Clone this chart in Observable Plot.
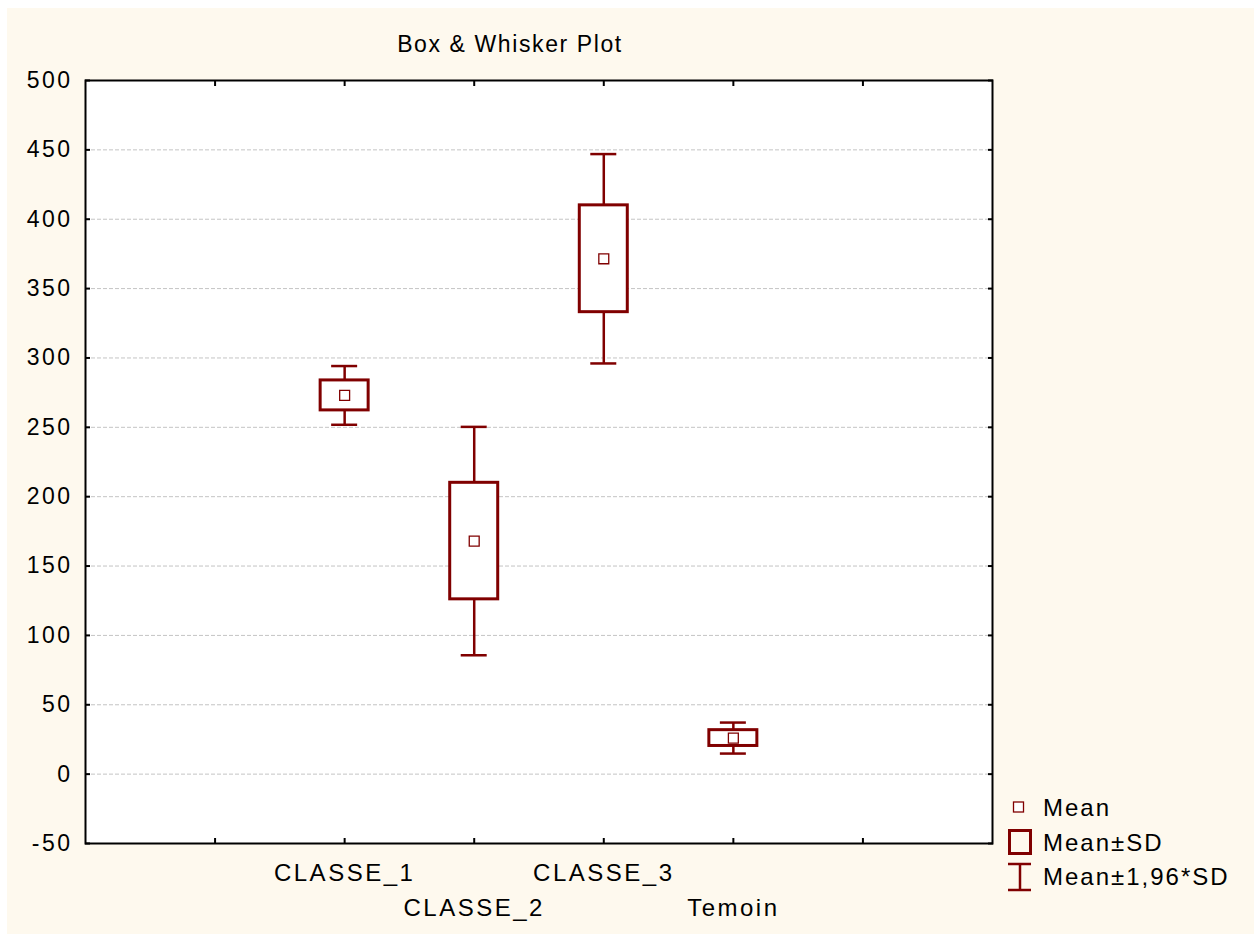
<!DOCTYPE html>
<html>
<head>
<meta charset="utf-8">
<script src="https://cdn.jsdelivr.net/npm/d3@7"></script>
<script src="https://cdn.jsdelivr.net/npm/@observablehq/plot@0.6"></script>
<style>
  body { margin: 0; background: #ffffff; }
  #wrap { position: relative; width: 1258px; height: 935px; overflow: hidden;
          font-family: "Liberation Sans", Arial, sans-serif; color: #000; }
  #panel { position: absolute; left: 7px; top: 8px; width: 1247px; height: 926px; background: #fef9ee; }
  #chart { position: absolute; left: 0; top: 0; }
  #title { position: absolute; left: 0; top: 31px; width: 1020px; text-align: center;
           font-size: 23px; letter-spacing: 1.6px; line-height: normal; }
  #legend { position: absolute; left: 1000px; top: 790px; overflow: visible; }
</style>
</head>
<body>
<div id="wrap">
  <div id="panel"></div>
  <div id="chart"></div>
  <div id="title">Box &amp; Whisker Plot</div>
  <svg id="legend" width="258" height="120"></svg>
</div>
<script>
// Group statistics: mean and standard deviation per class
const categories = ["CLASSE_1", "CLASSE_2", "CLASSE_3", "Temoin"];
const means = [273, 168, 371.5, 26];
const sds = [10.8, 42, 38.5, 5.7];

// Axis ticks
const yTicks = [-50, 0, 50, 100, 150, 200, 250, 300, 350, 400, 450, 500];
const xSlots = [0, 1, 2, 3, 4, 5];
const legendLabels = ["Mean", "Mean\u00B1SD", "Mean\u00B11,96*SD"];

const RED = "#800000";
const FONT = "'Liberation Sans', Arial, sans-serif";

const rows = categories.map((name, i) => ({
  name,
  pos: i + 1,
  mean: means[i],
  lo: means[i] - sds[i],
  hi: means[i] + sds[i],
  lo96: means[i] - 1.96 * sds[i],
  hi96: means[i] + 1.96 * sds[i]
}));

const chart = Plot.plot({
  width: 1258,
  height: 935,
  marginLeft: 85,
  marginRight: 266,
  marginTop: 80,
  marginBottom: 92,
  style: { background: "transparent", fontFamily: FONT, color: "#000", overflow: "visible" },
  x: { domain: [-1, 6] },
  y: { domain: [-50, 500] },
  marks: [
    Plot.frame({ fill: "white" }),
    Plot.gridY(yTicks, { stroke: "#c4c4c4", strokeOpacity: 1, strokeWidth: 1, strokeDasharray: "4,2" }),
    // whiskers: mean ± 1.96 SD
    Plot.ruleX(rows, { x: "pos", y1: "lo96", y2: "hi96", stroke: RED, strokeWidth: 2.5 }),
    Plot.ruleY(rows, { y: "hi96", x1: "pos", x2: "pos", insetLeft: -13, insetRight: -13, stroke: RED, strokeWidth: 2.5 }),
    Plot.ruleY(rows, { y: "lo96", x1: "pos", x2: "pos", insetLeft: -13, insetRight: -13, stroke: RED, strokeWidth: 2.5 }),
    // boxes: mean ± SD
    Plot.rect(rows, { x1: "pos", x2: "pos", y1: "lo", y2: "hi", insetLeft: -24, insetRight: -24,
                      fill: "white", stroke: RED, strokeWidth: 3 }),
    // mean markers
    Plot.dot(rows, { x: "pos", y: "mean", symbol: "square", r: 5.6, fill: "white", stroke: RED, strokeWidth: 1.3 }),
    // inward ticks on all four sides
    Plot.axisX(xSlots, { anchor: "bottom", tickSize: -5, tickFormat: () => "", strokeWidth: 2, label: null }),
    Plot.axisX(xSlots, { anchor: "top", tickSize: -5, tickFormat: () => "", strokeWidth: 2, label: null }),
    Plot.axisY(yTicks, { anchor: "left", tickSize: -5, tickPadding: 18, strokeWidth: 2, label: null,
                         tickFormat: d => String(d), fontSize: 23, fill: "#000", textStroke: null }),
    Plot.axisY(yTicks, { anchor: "right", tickSize: -5, tickFormat: () => "", strokeWidth: 2, label: null }),
    Plot.frame({ stroke: "black", strokeWidth: 2 }),
    // category labels, staggered on two rows
    Plot.text(rows.filter((d, i) => i % 2 === 0), { x: "pos", text: "name", frameAnchor: "bottom", dy: 37,
                                                    fontSize: 24, fill: "#000" }),
    Plot.text(rows.filter((d, i) => i % 2 === 1), { x: "pos", text: "name", frameAnchor: "bottom", dy: 72,
                                                    fontSize: 24, fill: "#000" })
  ]
});
d3.select(chart).selectAll("text").style("letter-spacing", "2.5px").style("font-size", "24px");
d3.select(chart).selectAll("[aria-label='y-axis tick label'] text")
  .style("letter-spacing", "2.5px").style("font-size", "23px");
document.getElementById("chart").appendChild(chart);

// Legend
const lg = d3.select("#legend");
lg.append("rect").attr("x", 13.5).attr("y", 12).attr("width", 10).attr("height", 10)
  .attr("fill", "white").attr("stroke", RED).attr("stroke-width", 1.3);
lg.append("rect").attr("x", 9.5).attr("y", 40.5).attr("width", 21).attr("height", 23)
  .attr("fill", "none").attr("stroke", RED).attr("stroke-width", 3);
lg.append("line").attr("x1", 20).attr("x2", 20).attr("y1", 74).attr("y2", 100)
  .attr("stroke", RED).attr("stroke-width", 2.5);
lg.append("line").attr("x1", 8).attr("x2", 31).attr("y1", 74).attr("y2", 74)
  .attr("stroke", RED).attr("stroke-width", 2.5);
lg.append("line").attr("x1", 8).attr("x2", 31).attr("y1", 100).attr("y2", 100)
  .attr("stroke", RED).attr("stroke-width", 2.5);
lg.selectAll("text.lab").data(legendLabels).join("text")
  .attr("class", "lab")
  .attr("x", 43)
  .attr("y", (d, i) => [26, 61, 95][i])
  .attr("font-family", FONT)
  .attr("font-size", 24)
  .attr("letter-spacing", "2px")
  .attr("fill", "#000")
  .text(d => d);
</script>
</body>
</html>
